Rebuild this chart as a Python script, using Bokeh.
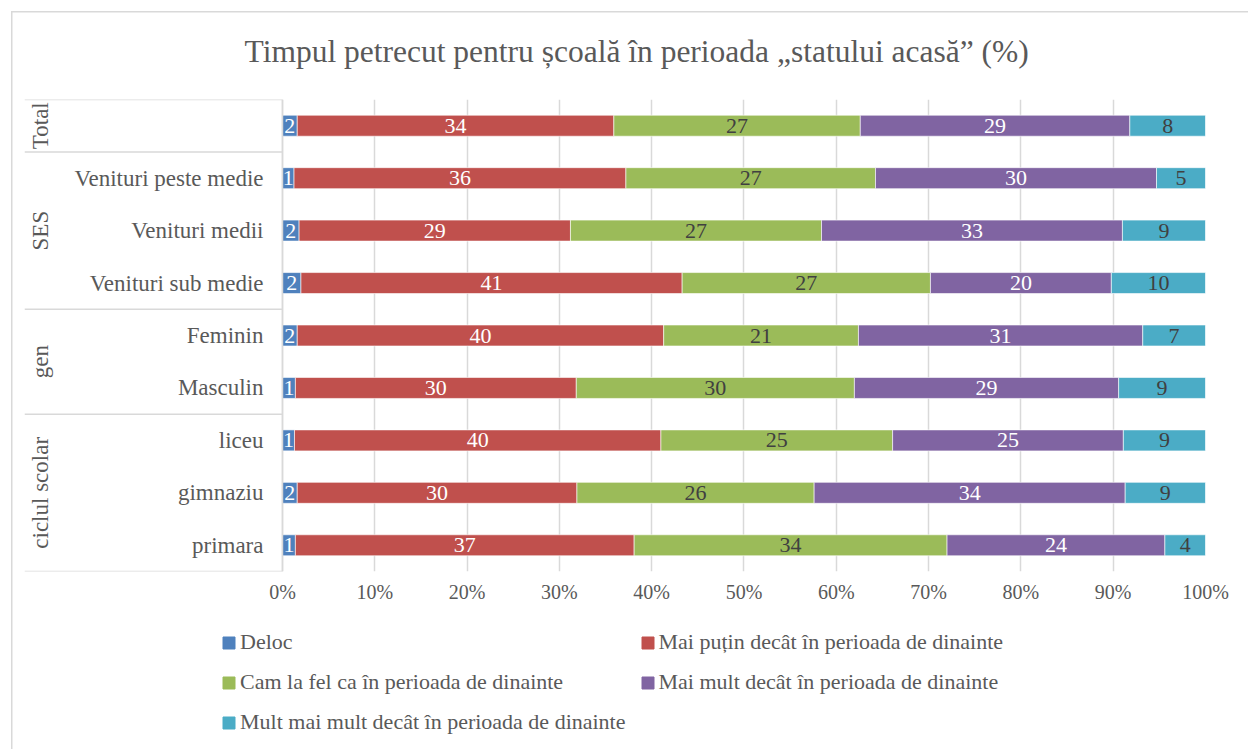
import math
from bokeh.plotting import figure
from bokeh.layouts import column
from bokeh.models import (Range1d, FixedTicker, PrintfTickFormatter, ColumnDataSource,
                          Legend, LegendItem)
from bokeh.core.properties import value
from bokeh.embed import file_html
from bokeh.resources import INLINE

# ---------------- data ----------------
title_text = "Timpul petrecut pentru școală în perioada „statului acasă” (%)"
row_labels = ["", "Venituri peste medie", "Venituri medii", "Venituri sub medie",
              "Feminin", "Masculin", "liceu", "gimnaziu", "primara"]
group_names = ["Total", "SES", "gen", "ciclul scolar"]
group_sizes = [1, 3, 2, 3]

series_names = ["Deloc",
                "Mai puțin decât în perioada de dinainte",
                "Cam la fel ca în perioada de dinainte",
                "Mai mult decât în perioada de dinainte",
                "Mult mai mult decât în perioada de dinainte"]
deloc         = [1.6, 1.25, 1.8, 2.0, 1.6, 1.4, 1.3, 1.6, 1.4]
mai_putin     = [34.3, 35.9, 29.4, 41.3, 39.7, 30.4, 39.7, 30.3, 36.7]
la_fel        = [26.7, 27.0, 27.2, 26.9, 21.1, 30.1, 25.1, 25.7, 33.9]
mai_mult      = [29.2, 30.4, 32.6, 19.6, 30.8, 28.6, 25.0, 33.7, 23.6]
mult_mai_mult = [8.2, 5.3, 9.0, 10.2, 6.8, 9.4, 8.9, 8.7, 4.4]
x_ticks = [0, 10, 20, 30, 40, 50, 60, 70, 80, 90, 100]

# ---------------- styling ----------------
colors = ["#4F81BD", "#C0504D", "#9BBB59", "#8064A2", "#4BACC6"]
label_colors = ["#FFFFFF", "#FFFFFF", "#404040", "#FFFFFF", "#404040"]
FONT = "Liberation Serif"
GREY = "#595959"
LINE = "#D9D9D9"

series = [deloc, mai_putin, la_fel, mai_mult, mult_mai_mult]
n = len(row_labels)
ys = [n - 1 - i for i in range(n)]
keys = ["s0", "s1", "s2", "s3", "s4"]

totals = [sum(s[i] for s in series) for i in range(n)]
src = {"y": ys}
for k, s in zip(keys, series):
    src[k] = [s[i] / totals[i] * 100 for i in range(n)]
source = ColumnDataSource(src)

X0 = -27.95
p = figure(width=1248, height=615,
           x_range=Range1d(X0, 100), y_range=Range1d(-0.5, n - 0.5),
           output_backend="svg", toolbar_location=None,
           min_border_left=24, min_border_right=43, min_border_top=99,
           min_border_bottom=44, outline_line_color=None,
           border_fill_color=None, background_fill_color="white")

p.title.text = title_text
p.title.align = "left"
p.title.offset = 220
p.title.vertical_align = "middle"
p.title.standoff = 60
p.title.text_font = FONT
p.title.text_font_size = "31.5px"
p.title.text_font_style = "normal"
p.title.text_color = GREY

renderers = p.hbar_stack(keys, y="y", height=0.4, color=colors, source=source,
                         line_color="white", line_width=0.6)

# data labels
lx, ly, lt, lc = [], [], [], []
for i in range(n):
    left = 0.0
    for j, k in enumerate(keys):
        w = src[k][i]
        lx.append(left + w / 2)
        ly.append(ys[i])
        lt.append(f"{series[j][i]:.0f}")
        lc.append(label_colors[j])
        left += w
p.text(x=lx, y=ly, text=lt, text_color=lc, text_align="center", text_baseline="middle",
       text_font=value(FONT), text_font_size="22px")

# category labels
p.text(x=[0] * n, y=ys, text=row_labels, x_offset=-19, text_align="right",
       text_baseline="middle", text_font=value(FONT), text_font_size="23px",
       text_color=GREY)

# group labels and separators
bounds = [n - 0.5]
gy = []
top = n - 0.5
for g in group_sizes:
    bottom = top - g
    gy.append((top + bottom) / 2)
    bounds.append(bottom)
    top = bottom
p.text(x=[0] * len(group_names), y=gy, text=group_names, x_offset=-242, angle=math.pi / 2,
       text_align="center", text_baseline="middle", text_font=value(FONT),
       text_font_size="23px", text_color=GREY)
p.segment(x0=[X0] * len(bounds), x1=[0] * len(bounds), y0=bounds, y1=bounds,
          line_color=LINE, line_width=1.5)
p.segment(x0=[0], x1=[0], y0=[-0.5], y1=[n - 0.5], line_color=LINE, line_width=1.5)

# axes / grid
p.yaxis.visible = False
p.ygrid.visible = False
p.xaxis.ticker = FixedTicker(ticks=x_ticks)
p.xaxis.formatter = PrintfTickFormatter(format="%d%%")
p.xaxis.axis_line_color = None
p.xaxis.major_tick_line_color = None
p.xaxis.minor_tick_line_color = None
p.xaxis.major_label_text_font = FONT
p.xaxis.major_label_text_font_size = "20px"
p.xaxis.major_label_text_color = GREY
p.xaxis.major_label_standoff = 3
p.xgrid.ticker = FixedTicker(ticks=x_ticks)
p.xgrid.grid_line_color = LINE
p.xgrid.grid_line_width = 1.5

# legend panel (second figure, below the chart)
p2 = figure(width=1248, height=134, x_range=Range1d(0, 1), y_range=Range1d(0, 1),
            output_backend="svg", toolbar_location=None, min_border=0,
            outline_line_color=None, border_fill_color=None, background_fill_color=None)
p2.axis.visible = False
p2.grid.visible = False
nan = float("nan")
swatches = [p2.hbar(y=[nan], right=[nan], height=0.5, color=c) for c in colors]
items = [LegendItem(label=nm, renderers=[r]) for nm, r in zip(series_names, swatches)]
legend = Legend(items=items, orientation="horizontal", ncols=2, location=(197, 14),
                label_text_font=FONT, label_text_font_size="22px", label_text_color=GREY,
                glyph_width=15, glyph_height=15, label_standoff=4, spacing=14,
                padding=0, margin=0, border_line_color=None, background_fill_alpha=0)
p2.add_layout(legend, "center")

layout = column(p, p2, spacing=0)
# outer chart border (only its left and top edges fall inside the crop)
layout.styles = {
    "background-color": "white",
    "background-image": "linear-gradient(#D9D9D9, #D9D9D9), linear-gradient(#D9D9D9, #D9D9D9)",
    "background-size": "1.5px 100%, 100% 1.5px",
    "background-position": "11px 11px, 11px 11px",
    "background-repeat": "no-repeat",
}

open("out.html", "w").write(file_html(layout, INLINE))
